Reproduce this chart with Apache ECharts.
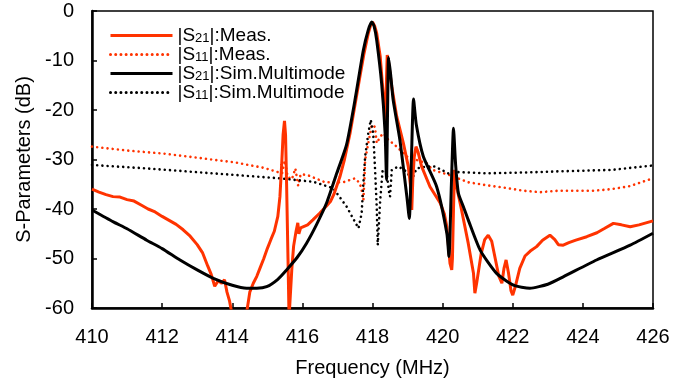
<!DOCTYPE html>
<html>
<head>
<meta charset="utf-8">
<script src="https://cdn.jsdelivr.net/npm/echarts@6/dist/echarts.min.js"></script>
<style>html,body{margin:0;padding:0;background:#fff}#c{width:695px;height:383px}</style>
</head>
<body>
<div id="c"></div>
<script>
var xTicks = [410, 412, 414, 416, 418, 420, 422, 424, 426];
var yTicks = [-60, -50, -40, -30, -20, -10, 0];
var seriesNames = ['|S21|:Meas.', '|S11|:Meas.', '|S21|:Sim.Multimode', '|S11|:Sim.Multimode'];

var s21MeasFreq = [410.0,410.2,410.4,410.6,410.8,411.0,411.2,411.4,411.6,411.8,412.0,412.2,412.4,412.6,412.8,413.0,413.15,413.3,413.4,413.5,413.6,413.7,413.78,413.85,413.92,414.0,414.1,414.3,414.42,414.5,414.6,414.7,414.8,414.9,415.0,415.1,415.2,415.3,415.36,415.41,415.45,415.49,415.52,415.55,415.59,415.62,415.66,415.7,415.75,415.82,415.87,415.9,415.95,416.05,416.15,416.3,416.5,416.7,416.8,416.9,417.07,417.2,417.36,417.5,417.64,417.76,417.88,417.95,418.0,418.06,418.12,418.22,418.31,418.36,418.39,418.42,418.46,418.55,418.69,418.88,419.02,419.08,419.12,419.15,419.19,419.24,419.3,419.4,419.64,419.93,420.05,420.12,420.21,420.26,420.28,420.31,420.34,420.4,420.54,420.73,420.88,420.92,420.97,421.1,421.2,421.3,421.4,421.5,421.6,421.69,421.75,421.81,421.88,421.95,422.0,422.08,422.2,422.35,422.5,422.68,422.85,423.06,423.2,423.3,423.44,423.6,423.8,424.11,424.4,424.6,424.87,425.1,425.35,425.6,425.8,426.0];
var s21MeasDb = [-36.0,-36.6,-37.1,-37.5,-37.6,-38.1,-38.4,-39.2,-40.0,-40.6,-41.5,-42.3,-43.1,-44.2,-45.5,-47.2,-48.8,-51.5,-53.2,-55.6,-54.5,-55.0,-54.3,-56.8,-58.5,-61.5,-64,-64,-60.5,-56.8,-55.0,-53.6,-51.8,-50.0,-48.0,-46.2,-44.5,-41.5,-37.5,-31.0,-25.0,-22.2,-25,-35,-50,-62,-62,-52,-47.5,-44.5,-42.8,-45.0,-43.8,-43.5,-43.2,-42.2,-40.8,-39.3,-38.5,-37.0,-33.5,-30.0,-24.7,-19.0,-13.3,-8.5,-4.5,-2.8,-2.2,-3.0,-4.5,-9.2,-17.3,-22.5,-16,-8.9,-10.5,-15.3,-21.3,-26.7,-31.4,-35,-40.2,-34,-29.5,-27.4,-28.5,-31.4,-35.5,-38.8,-41.0,-43.6,-51,-52.3,-50,-40,-32.1,-35.5,-40.2,-46.9,-53,-57,-55,-49,-46.2,-45.3,-46.5,-50,-53.5,-55,-52,-50.3,-53,-56.5,-57.4,-55.5,-52,-49.5,-48.5,-47.6,-46.3,-45.3,-46.2,-47.2,-47.3,-46.8,-46.3,-45.6,-44.8,-44.0,-42.9,-43.2,-43.6,-43.2,-42.8,-42.4];

var s11MeasFreq = [410,411.02,412.04,413.07,414.09,414.91,415.42,415.5,415.58,415.7,415.8,415.88,415.95,416.13,416.65,417.16,417.5,417.64,417.7,417.74,417.77,417.79,417.88,417.98,418.07,418.12,418.22,418.31,418.45,418.69,418.98,419.26,419.55,419.71,420.22,420.73,421.25,421.76,422.3,422.78,423.3,424.31,424.8,425.33,426];
var s11MeasDb = [-27.4,-28.2,-28.8,-29.7,-30.6,-31.7,-32.8,-30.2,-33.5,-34.0,-31.8,-35.3,-33.0,-33.1,-34.6,-34.6,-33.8,-34.8,-36.5,-38.2,-34,-30.1,-26.7,-23,-23.4,-26.7,-25.4,-24.7,-26,-27.4,-29.4,-30.1,-30.8,-32.1,-33.2,-34.6,-35.2,-35.7,-36.3,-36.6,-36.3,-36.3,-36.0,-35.4,-33.8];

var s21SimFreq = [410.0,410.61,411.0,411.56,412.0,412.51,413.0,413.46,414.0,414.41,414.7,414.98,415.3,415.55,415.85,416.12,416.4,416.69,416.98,417.26,417.5,417.74,417.88,417.98,418.05,418.12,418.26,418.36,418.4,418.43,418.46,418.52,418.59,418.78,418.98,419.05,419.11,419.17,419.25,419.45,419.83,420.12,420.18,420.25,420.31,420.37,420.45,420.59,420.73,421.07,421.54,422.02,422.49,423.0,423.44,424.39,425.35,426.0];
var s21SimDb = [-40.2,-42.6,-44.0,-46.3,-48.0,-50.3,-52.3,-54.0,-55.4,-56.0,-56.0,-55.7,-54.2,-52.3,-49.8,-46.9,-43.2,-38.8,-32.8,-27,-18,-7.9,-3.8,-2.2,-3.2,-5.9,-14.6,-24.7,-34.1,-20,-9.4,-13,-18,-26,-37.5,-41.9,-30,-17.8,-23,-29.4,-35.5,-44.9,-49.6,-35,-23.7,-31,-36.8,-39.5,-42.2,-48.3,-53.0,-55.4,-56.0,-55.2,-53.7,-50.3,-47.3,-44.9];

var s11SimFreq = [410,411.56,413.46,415.36,416.31,416.88,417.26,417.6,417.69,417.74,417.79,417.88,417.95,418.02,418.07,418.12,418.15,418.22,418.29,418.4,418.47,418.5,418.55,418.74,418.98,419.12,419.26,419.55,419.78,420.16,420.32,421.24,422.49,423.3,424.82,426];
var s11SimDb = [-31.1,-31.8,-32.8,-33.8,-34.5,-35.8,-39.5,-43.9,-40.9,-34.8,-29.4,-24.7,-22,-24.7,-31.5,-39.5,-47.3,-38.2,-32.1,-32.5,-36.5,-37.5,-32.1,-31.4,-32.5,-34.1,-31.8,-31.4,-31.4,-32.8,-32.5,-32.8,-32.6,-32.4,-32.1,-31.2];

function pairs(xs, ys){ return xs.map(function(x,i){ return [x, ys[i]]; }); }

var RED = '#ff3300';
var FONT = '"Liberation Sans", Arial, sans-serif';
var chart = echarts.init(document.getElementById('c'), null, {renderer:'canvas'});
var dot = [0.01, 5.2];

chart.setOption({
  animation: false,
  backgroundColor: '#fff',
  textStyle: {fontFamily: FONT, color: '#000'},
  grid: {left: 92, right: 42, top: 11, bottom: 75, show: true, borderColor: '#000', borderWidth: 1.5, containLabel: false},
  legend: {
    orient: 'vertical', left: 104, top: 21, itemWidth: 62, itemHeight: 14, itemGap: 0,
    itemStyle: {color: 'rgba(0,0,0,0)', borderColor: 'rgba(0,0,0,0)', borderWidth: 0, opacity: 0},
    lineStyle: {width: 3},
    data: seriesNames,
    formatter: function(n){ return n.replace(/S(\d\d)/, 'S{s|$1}'); },
    textStyle: {fontFamily: FONT, fontSize: 19, color: '#000', lineHeight: 19,
      rich: {s: {fontFamily: FONT, fontSize: 13, lineHeight: 10, verticalAlign: 'bottom', color: '#000'}}}
  },
  xAxis: {
    type: 'value', min: xTicks[0], max: xTicks[xTicks.length-1], interval: 2,
    name: 'Frequency (MHz)', nameLocation: 'middle', nameGap: 50,
    nameTextStyle: {fontFamily: FONT, fontSize: 20, color: '#000'},
    axisLine: {show: true, onZero: false, lineStyle: {color: '#000', width: 2.5}},
    axisTick: {show: true, inside: true, length: 5, lineStyle: {color: '#000', width: 1.5}},
    axisLabel: {fontFamily: FONT, fontSize: 20, color: '#000', margin: 19},
    splitLine: {show: false}
  },
  yAxis: {
    type: 'value', min: yTicks[0], max: yTicks[yTicks.length-1], interval: 10,
    name: 'S-Parameters (dB)', nameLocation: 'middle', nameGap: 56,
    nameTextStyle: {fontFamily: FONT, fontSize: 20, color: '#000'},
    axisLine: {show: true, onZero: false, lineStyle: {color: '#000', width: 2.5}},
    axisTick: {show: true, inside: true, length: 5, lineStyle: {color: '#000', width: 1.5}},
    axisLabel: {fontFamily: FONT, fontSize: 20, color: '#000', margin: 18},
    splitLine: {show: false}
  },
  series: [
    {name: seriesNames[1], type: 'line', data: pairs(s11MeasFreq, s11MeasDb), showSymbol: false, symbol: 'none', clip: true,
     lineStyle: {color: RED, width: 2.6, type: dot, cap: 'round'}, itemStyle: {color: RED}, z: 2},
    {name: seriesNames[3], type: 'line', data: pairs(s11SimFreq, s11SimDb), showSymbol: false, symbol: 'none', clip: true,
     lineStyle: {color: '#000', width: 2.6, type: dot, cap: 'round'}, itemStyle: {color: '#000'}, z: 3},
    {name: seriesNames[0], type: 'line', data: pairs(s21MeasFreq, s21MeasDb), showSymbol: false, symbol: 'none', clip: true,
     lineStyle: {color: RED, width: 3}, itemStyle: {color: RED}, z: 4},
    {name: seriesNames[2], type: 'line', data: pairs(s21SimFreq, s21SimDb), showSymbol: false, symbol: 'none', clip: true, smooth: 0.2,
     lineStyle: {color: '#000', width: 3}, itemStyle: {color: '#000'}, z: 5}
  ]
});
</script>
</body>
</html>
